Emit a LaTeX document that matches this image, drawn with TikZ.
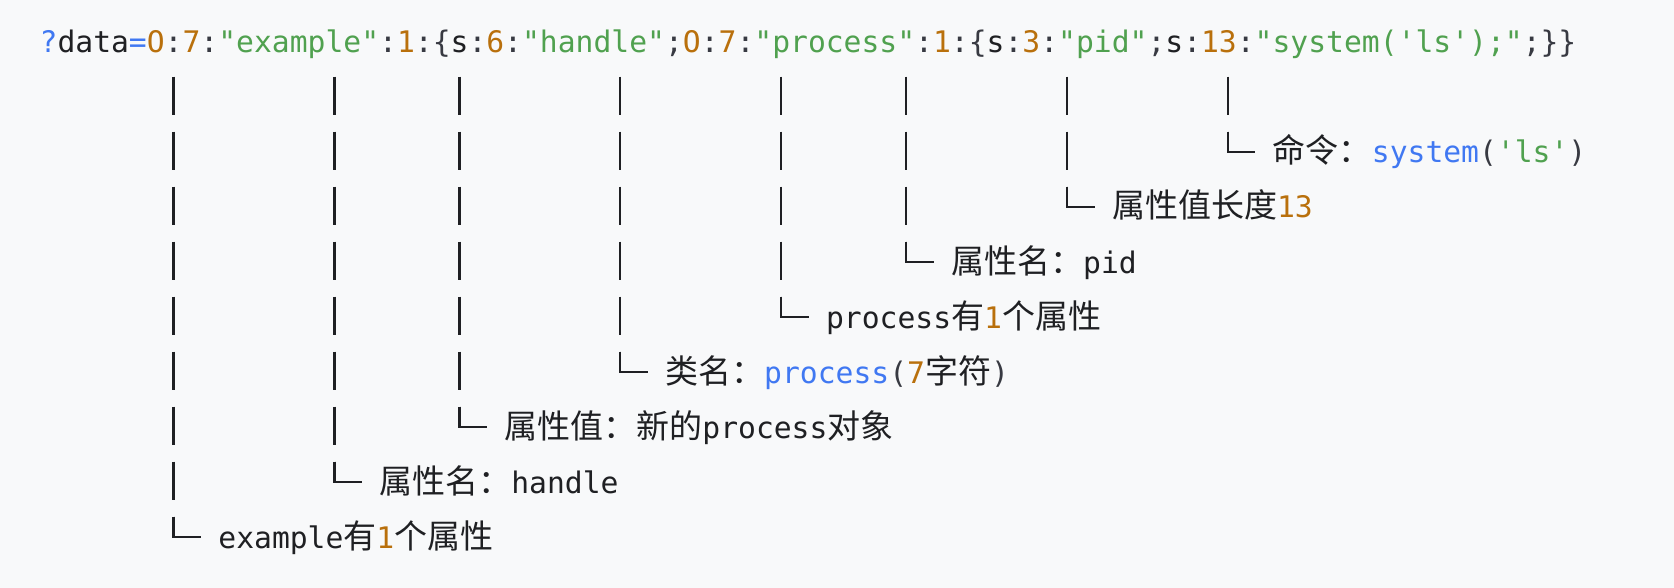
\documentclass[tikz,border=0pt]{standalone}
\usepackage{fontspec}
\usepackage{xcolor}
\usepackage{tikz}
\usetikzlibrary{calc}
\setmonofont{DejaVu Sans Mono}
\newfontfamily\cjkfont{Noto Sans CJK SC}
\definecolor{codebg}{HTML}{F8F9FA}
\definecolor{codeink}{HTML}{1F2023}
\definecolor{codepunct}{HTML}{383A42}
\definecolor{codeblue}{HTML}{4078F2}
\definecolor{codegreen}{HTML}{50A14F}
\definecolor{codeorange}{HTML}{B9700C}
\newcommand\codefont{\ttfamily\fontsize{29.68}{36}\selectfont}
\newcommand\zh[1]{{\cjkfont\fontsize{33}{40}\selectfont #1}}
\newcommand\cnum[1]{\textcolor{codeorange}{#1}}
\newcommand\cstr[1]{\textcolor{codegreen}{#1}}
\newcommand\cfun[1]{\textcolor{codeblue}{#1}}
\newcommand\cpun[1]{\textcolor{codepunct}{#1}}
\tikzset{
  codeline/.style={anchor=base west,inner sep=0pt,text=codeink,font=\codefont},
  note/.style={codeline},
  stem/.style={draw=codeink,line width=2.2pt,dash pattern=on 38.3pt off 16.7pt},
  elbow/.style={draw=codeink,line width=2.2pt}
}

\begin{document}
\begin{tikzpicture}[x=1pt,y=-1pt]
  \useasboundingbox (0,0) rectangle (1674,588);
  \fill[codebg] (0,0) rectangle (1674,588);
  % serialized payload
  \node[codeline] (src) at (39.45,53) {\cfun{?}data\cfun{=}\cnum{O}\cpun{:}\cnum{7}\cpun{:}\cstr{"example"}\cpun{:}\cnum{1}\cpun{:}\cpun{\{}s\cpun{:}\cnum{6}\cpun{:}\cstr{"handle"}\cpun{;}\cnum{O}\cpun{:}\cnum{7}\cpun{:}\cstr{"process"}\cpun{:}\cnum{1}\cpun{:}\cpun{\{}s\cpun{:}\cnum{3}\cpun{:}\cstr{"pid"}\cpun{;}s\cpun{:}\cnum{13}\cpun{:}\cstr{"system('ls');"}\cpun{;}\cpun{\}\}}};
  % where each branch starts
  \coordinate (ex-top) at (173.5,76.7);
  \coordinate (hname-top) at (334.4,76.7);
  \coordinate (hval-top) at (459.5,76.7);
  \coordinate (cls-top) at (620.3,76.7);
  \coordinate (pcnt-top) at (781.2,76.7);
  \coordinate (pname-top) at (906.3,76.7);
  \coordinate (plen-top) at (1067.2,76.7);
  \coordinate (cmd-top) at (1228.0,76.7);
  % notes
  \node[note] (cmd) at (1272.7,163) {\zh{命令：}\cfun{system}\cpun{(}\cstr{'ls'}\cpun{)}};
  \node[note] (plen) at (1111.9,218) {\zh{属性值长度}\cnum{13}};
  \node[note] (pname) at (951.0,273) {\zh{属性名：}pid};
  \node[note] (pcnt) at (825.9,328) {process\zh{有}\cnum{1}\zh{个属性}};
  \node[note] (cls) at (665.0,383) {\zh{类名：}\cfun{process}\cpun{(}\cnum{7}\zh{字符}\cpun{)}};
  \node[note] (hval) at (504.2,438) {\zh{属性值：新的}process\zh{对象}};
  \node[note] (hname) at (379.1,493) {\zh{属性名：}handle};
  \node[note] (ex) at (218.2,548) {example\zh{有}\cnum{1}\zh{个属性}};
  % tree lines
  \foreach \n in {cmd,plen,pname,pcnt,cls,hval,hname,ex}{
    \draw[stem] (\n-top) -- ($(\n-top |- \n.base west)+(0,-31.3)$) coordinate (\n-turn);
    \draw[elbow] (\n-turn) |- ([xshift=-17.3pt,yshift=11.3pt]\n.base west);
  }
\end{tikzpicture}
\end{document}
